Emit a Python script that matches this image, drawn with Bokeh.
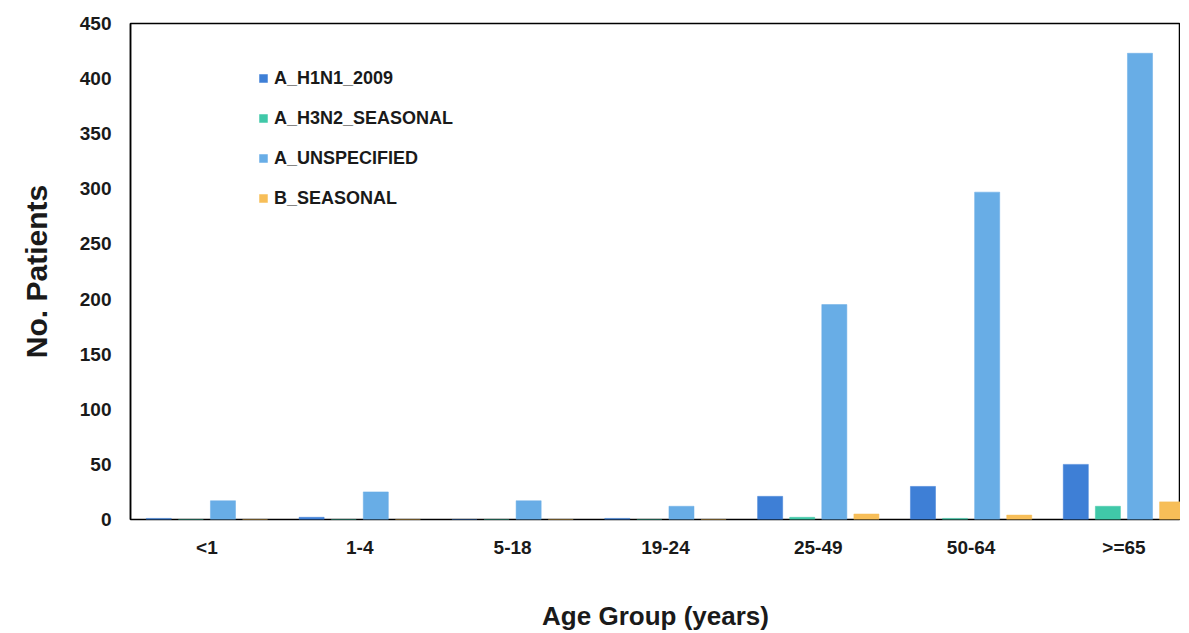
from bokeh.plotting import figure
from bokeh.models import ColumnDataSource, FixedTicker, Legend, LegendItem, Range1d
from bokeh.embed import file_html
from bokeh.resources import INLINE

categories = ["<1", "1-4", "5-18", "19-24", "25-49", "50-64", ">=65"]
series_names = ["A_H1N1_2009", "A_H3N2_SEASONAL", "A_UNSPECIFIED", "B_SEASONAL"]
h1n1 = [1, 2, 0, 1, 21, 30, 50]
h3n2 = [0, 0, 0, 0, 2, 1, 12]
unspecified = [17, 25, 17, 12, 195, 297, 423]
b_seasonal = [0, 0, 0, 0, 5, 4, 16]
y_ticks = [0, 50, 100, 150, 200, 250, 300, 350, 400, 450]
x_title = "Age Group (years)"
y_title = "No. Patients"

series = [h1n1, h3n2, unspecified, b_seasonal]
colors = ["#3E7FD6", "#40C8A8", "#68ADE6", "#F7BE58"]
offsets = [-0.315, -0.105, 0.105, 0.315]
FONT = "Liberation Sans"

p = figure(width=1180, height=633, output_backend="svg", toolbar_location=None,
           x_range=Range1d(0, 6.87), y_range=Range1d(0, 450),
           min_border_left=130, min_border_right=0, min_border_top=23, min_border_bottom=90)
p.background_fill_color = "white"
p.border_fill_color = "white"
p.xgrid.visible = False
p.ygrid.visible = False
p.outline_line_color = "black"
p.outline_line_width = 1.5

centers = [i + 0.5 for i in range(len(categories))]
items = []
for name, vals, col, off in zip(series_names, series, colors, offsets):
    src = ColumnDataSource(dict(x=[c + off for c in centers], top=vals))
    r = p.vbar(x="x", top="top", width=0.164, source=src, fill_color=col,
               line_color=col, line_width=0.5)
    items.append(LegendItem(label=name, renderers=[r]))

legend = Legend(items=items, location=(128, 310), glyph_width=10, glyph_height=10,
                label_height=22, spacing=18, padding=0, margin=0, label_standoff=6,
                label_text_font=FONT, label_text_font_style="bold",
                label_text_font_size="18px", label_text_color="#1a1a1a",
                background_fill_alpha=0, border_line_alpha=0)
p.add_layout(legend)

p.xaxis.ticker = FixedTicker(ticks=centers)
p.xaxis.major_label_overrides = {c: lab for c, lab in zip(centers, categories)}
p.xaxis.axis_line_color = None
p.xaxis.major_tick_line_color = None
p.xaxis.minor_tick_line_color = None
p.xaxis.major_label_standoff = 11
p.xaxis.major_label_text_font = FONT
p.xaxis.major_label_text_font_style = "bold"
p.xaxis.major_label_text_font_size = "19px"
p.xaxis.major_label_text_color = "#1a1a1a"
p.xaxis.axis_label = x_title
p.xaxis.axis_label_text_font = FONT
p.xaxis.axis_label_text_font_style = "bold"
p.xaxis.axis_label_text_font_size = "26px"
p.xaxis.axis_label_text_color = "#1a1a1a"
p.xaxis.axis_label_standoff = 40

p.yaxis.ticker = FixedTicker(ticks=y_ticks)
p.yaxis.axis_line_color = "black"
p.yaxis.axis_line_width = 1.5
p.yaxis.major_tick_line_color = None
p.yaxis.minor_tick_line_color = None
p.yaxis.major_label_standoff = 13
p.yaxis.major_label_text_font = FONT
p.yaxis.major_label_text_font_style = "bold"
p.yaxis.major_label_text_font_size = "19px"
p.yaxis.major_label_text_color = "#1a1a1a"
p.yaxis.axis_label = y_title
p.yaxis.axis_label_text_font = FONT
p.yaxis.axis_label_text_font_style = "bold"
p.yaxis.axis_label_text_font_size = "30px"
p.yaxis.axis_label_text_color = "#1a1a1a"
p.yaxis.axis_label_standoff = 24

open("out.html", "w").write(file_html(p, INLINE))
